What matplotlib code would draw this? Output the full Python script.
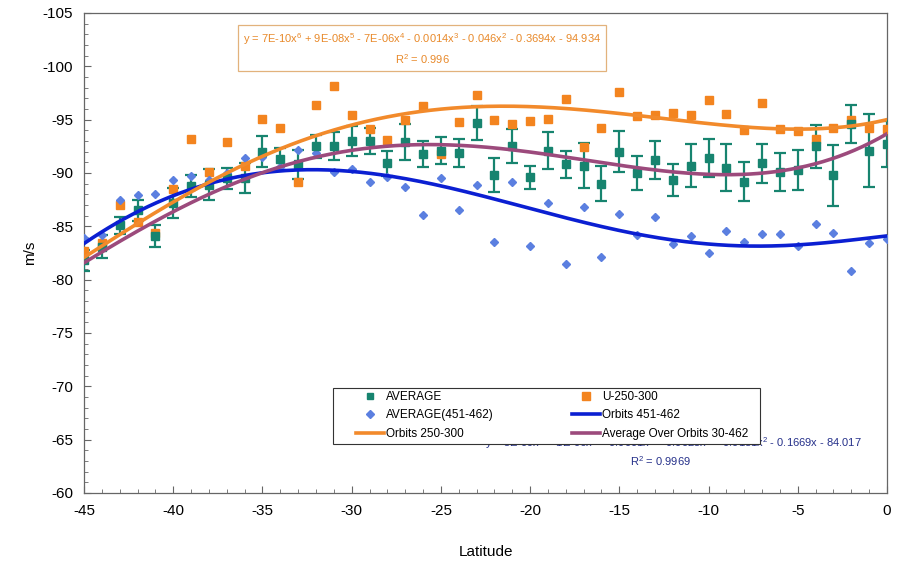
import matplotlib
matplotlib.use("Agg")
import matplotlib.pyplot as plt
from matplotlib.lines import Line2D
from matplotlib.patches import Rectangle
import numpy as np

plt.rcParams['font.family'] = ['Liberation Sans', 'DejaVu Sans']
plt.rcParams['axes.unicode_minus'] = False
plt.rcParams['mathtext.fontset'] = 'custom'
plt.rcParams['mathtext.rm'] = 'Liberation Sans'
plt.rcParams['mathtext.it'] = 'Liberation Sans'

# latitude of every sample, -45 .. 0
lat = list(range(-45, 1))

# AVERAGE (green squares) and its error half-widths
avg = [-81.8, -83.1, -85.1, -86.5, -84.1, -87.2, -88.8, -88.9, -89.5, -89.5,
       -92.0, -91.3, -90.8, -92.5, -92.5, -93.0, -93.0, -90.9, -92.9, -91.8,
       -92.1, -91.9, -94.7, -89.8, -92.5, -89.6, -92.1, -90.8, -90.7, -89.0,
       -92.0, -90.0, -91.2, -89.3, -90.7, -91.4, -90.5, -89.2, -90.9, -90.1,
       -90.3, -92.5, -89.8, -94.6, -92.1, -92.7]
avg_err = [1.0, 1.05, 0.8, 1.0, 1.05, 1.4, 1.05, 1.45, 1.0, 1.4,
           1.45, 1.0, 1.4, 1.05, 1.3, 1.4, 1.2, 1.2, 1.7, 1.2,
           1.25, 1.3, 1.6, 1.6, 1.6, 1.1, 1.75, 1.3, 2.1, 1.65,
           1.95, 1.6, 1.8, 1.5, 2.05, 1.8, 2.2, 1.85, 1.8, 1.8,
           1.9, 2.0, 2.85, 1.8, 3.4, 2.15]

# U-250-300 (orange squares)
u250 = [-82.7, -83.4, -87.0, -85.4, -84.4, -88.5, -93.2, -90.1, -92.9, -90.7,
        -95.1, -94.2, -89.2, -96.4, -98.2, -95.4, -94.1, -93.1, -95.0, -96.3,
        -91.8, -94.8, -97.3, -95.0, -94.6, -94.9, -95.1, -96.9, -92.4, -94.2,
        -97.6, -95.3, -95.4, -95.6, -95.4, -96.8, -95.5, -94.0, -96.6, -94.1,
        -93.9, -93.2, -94.2, -95.0, -94.2, -94.1]

# AVERAGE(451-462) (blue diamonds)
avg451 = [-83.9, -84.2, -87.5, -87.9, -88.0, -89.3, -89.7, -89.3, -90.0, -91.4,
          -91.5, -90.6, -92.2, -91.9, -90.1, -90.4, -89.2, -89.6, -88.7, -86.1,
          -89.5, -86.5, -88.9, -83.5, -89.2, -83.2, -87.2, -81.5, -86.8, -82.1,
          -86.2, -84.2, -85.9, -83.3, -84.1, -82.5, -84.6, -83.5, -84.3, -84.3,
          -83.2, -85.2, -84.4, -80.8, -83.4, -83.8]

# line series, read every 3 degrees
lat_ln = [-45, -42, -39, -36, -33, -30, -27, -24, -21, -18, -15, -12, -9, -6, -3, 0]
orbits451 = [-83.4, -86.3, -88.6, -89.7, -90.25, -90.2, -89.4, -88.55,
             -87.0, -85.8, -84.65, -83.7, -83.25, -83.15, -83.55, -84.1]
orbits250 = [-82.1, -85.2, -88.3, -90.85, -92.8, -94.5, -95.6, -96.15,
             -96.25, -96.0, -95.6, -95.0, -94.5, -94.1, -94.25, -95.0]
orbits_all = [-81.6, -84.5, -87.2, -89.55, -91.05, -92.0, -92.55, -92.7,
              -92.3, -91.45, -90.6, -90.1, -89.9, -90.25, -91.3, -93.7]

eq_orange = ("y = 7E-10x$^6$ + 9E-08x$^5$ - 7E-06x$^4$ - 0.0014x$^3$ - 0.046x$^2$"
             " - 0.3694x - 94.934\nR$^2$ = 0.996")
eq_blue = ("y = 5E-09x$^6$ + 1E-06x$^5$ + 0.0001x$^4$ + 0.0025x$^3$ + 0.0181x$^2$"
           " - 0.1669x - 84.017")

c_green = '#17846f'
c_orange_pt = '#f3841f'
c_blue_pt = '#5b7fe0'
c_blue_ln = '#0b1fd2'
c_orange_ln = '#f28a2b'
c_purple_ln = '#9c4a7c'

fig = plt.figure(figsize=(9.02, 5.61), dpi=100)
ax = fig.add_axes([84/902, 1 - 493/561, 803/902, 480/561])

# smooth order-6 trendlines through the line series
xs = np.linspace(-45, 0, 300)
fit_blue = np.polyval(np.polyfit(lat_ln, orbits451, 6), xs)
fit_orange = np.polyval(np.polyfit(lat_ln, orbits250, 6), xs)
fit_purple = np.polyval(np.polyfit(lat_ln, orbits_all, 6), xs)

ax.errorbar(lat, avg, yerr=avg_err, fmt='s', color=c_green, ms=5.5,
            elinewidth=1.6, capsize=4.5, capthick=1.6, zorder=3)
h_u, = ax.plot(lat, u250, 's', color=c_orange_pt, ms=5.5, zorder=3,
               label='U-250-300')
h_b, = ax.plot(lat, avg451, 'D', color=c_blue_pt, ms=4, zorder=3,
               label='AVERAGE(451-462)')
l_b, = ax.plot(xs, fit_blue, color=c_blue_ln, lw=2.6, zorder=4,
               label='Orbits 451-462')
l_o, = ax.plot(xs, fit_orange, color=c_orange_ln, lw=2.6, zorder=4,
               label='Orbits 250-300')
l_p, = ax.plot(xs, fit_purple, color=c_purple_ln, lw=2.6, zorder=4,
               label='Average Over Orbits 30-462')
h_a = Line2D([], [], ls='', marker='s', color=c_green, ms=5, label='AVERAGE')

ax.set_xlim(-45, 0)
ax.set_ylim(-60, -105)
ax.set_xticks(np.arange(-45, 1, 5))
ax.set_yticks(np.arange(-60, -106, -5))
ax.set_xticks(np.arange(-45, 1, 1), minor=True)
ax.set_yticks(np.arange(-60, -106, -1), minor=True)
ax.tick_params(which='both', direction='in', colors='#666666', labelcolor='black',
               labelsize=11)
ax.tick_params(which='major', length=5, width=0.8, pad=8)
ax.tick_params(which='minor', length=3, width=0.6)
for s in ax.spines.values():
    s.set_color('#666666')
    s.set_linewidth(0.9)

ax.set_xlabel('Latitude', fontsize=11, labelpad=19)
ax.set_ylabel('m/s', fontsize=11, labelpad=4)

# trendline equations
fig.text(422/902, 1 - 49/561, eq_orange, ha='center', va='center', fontsize=8,
         color='#e8892a', linespacing=1.45,
         bbox=dict(boxstyle='square,pad=0.45', fc='white', ec='#e2b27c', lw=0.9))
ax.text(862/902, 1 - 443/561, eq_blue, ha='right', va='center', fontsize=8,
        color='#25308a', zorder=1, transform=fig.transFigure)
ax.text(660/902, 1 - 461/561, 'R$^2$ = 0.9969', ha='center', va='center',
        fontsize=8, color='#25308a', transform=fig.transFigure)

# legend box drawn separately so the entries can sit inset from its left edge
ax.add_patch(Rectangle((333/902, 1 - 444/561), 427/902, 56/561,
                       transform=fig.transFigure, fc='white', ec='#333333',
                       lw=0.8, zorder=9, clip_on=False))
handles = [h_a, h_b, l_o, h_u, l_b, l_p]
leg = ax.legend(handles=handles, labels=[h.get_label() for h in handles],
                ncol=2, loc='upper left', bbox_to_anchor=(356/902, 1 - 391/561),
                bbox_transform=fig.transFigure, fontsize=8.5, frameon=False,
                handlelength=2.4, handletextpad=0.15, columnspacing=6.6,
                labelspacing=0.55, borderpad=0, borderaxespad=0)
leg.set_zorder(10)

fig.savefig('out.png', dpi=100)
